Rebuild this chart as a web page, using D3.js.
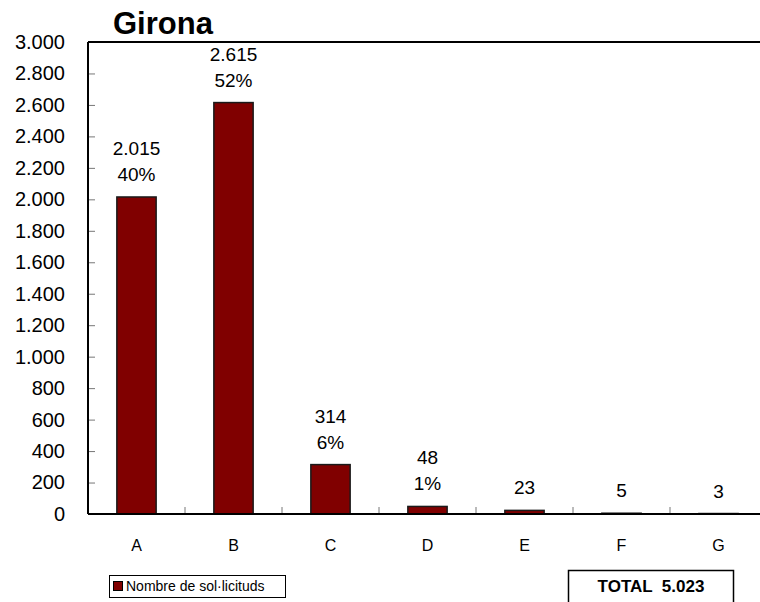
<!DOCTYPE html>
<html>
<head>
<meta charset="utf-8">
<script src="https://cdn.jsdelivr.net/npm/d3@7"></script>
<style>
  body { margin: 0; background: #fff; }
  svg { display: block; font-family: "Liberation Sans", Arial, sans-serif; }
</style>
</head>
<body>
<div id="chart"></div>
<script>
// Chart data
const title = 'Girona';
const categories = ['A', 'B', 'C', 'D', 'E', 'F', 'G'];
const values = [2015, 2615, 314, 48, 23, 5, 3];
const yTicks = [0, 200, 400, 600, 800, 1000, 1200, 1400, 1600, 1800, 2000, 2200, 2400, 2600, 2800, 3000];
const seriesName = 'Nombre de sol·licituds';
const totalLabel = 'TOTAL';

const width = 760;
const height = 602;
const plot = { left: 88, right: 767, top: 42, bottom: 514 };

const locale = d3.formatLocale({ decimal: ',', thousands: '.', grouping: [3], currency: ['', '€'] });
const fmt = locale.format(',');
const total = d3.sum(values);

const svg = d3.select('#chart')
  .append('svg')
  .attr('width', width)
  .attr('height', height);

svg.append('rect')
  .attr('width', width)
  .attr('height', height)
  .attr('fill', '#fff');

// Scales
const x = d3.scaleBand()
  .domain(categories)
  .range([plot.left, plot.right])
  .padding(0);

const barW = x.bandwidth() * 0.405;

const y = d3.scaleLinear()
  .domain([0, 3000])
  .range([plot.bottom, plot.top]);

// Title
svg.append('text')
  .attr('x', 113)
  .attr('y', 34)
  .attr('font-size', 31)
  .attr('font-weight', 'bold')
  .attr('fill', '#000')
  .text(title);

// Y axis
const yAxis = svg.append('g')
  .attr('transform', `translate(${plot.left},0)`)
  .call(d3.axisLeft(y)
    .tickValues(yTicks)
    .tickFormat(fmt)
    .tickSizeInner(-7)
    .tickSizeOuter(0)
    .tickPadding(23));

yAxis.select('.domain').remove();
yAxis.selectAll('line').attr('stroke', '#777').attr('stroke-width', 1);
yAxis.selectAll('text')
  .attr('font-size', 20)
  .attr('font-family', '"Liberation Sans", Arial, sans-serif')
  .attr('fill', '#000');

// Category boundary ticks on x axis
svg.append('g')
  .selectAll('line')
  .data(categories.slice(1))
  .join('line')
  .attr('x1', d => x(d))
  .attr('x2', d => x(d))
  .attr('y1', plot.bottom)
  .attr('y2', plot.bottom - 7)
  .attr('stroke', '#777')
  .attr('stroke-width', 1);

// X axis labels
const xAxis = svg.append('g')
  .attr('transform', `translate(0,${plot.bottom})`)
  .call(d3.axisBottom(x).tickSize(0).tickPadding(26));

xAxis.select('.domain').remove();
xAxis.selectAll('text')
  .attr('font-size', 16)
  .attr('font-family', '"Liberation Sans", Arial, sans-serif')
  .attr('fill', '#000');

// Bars
svg.append('g')
  .selectAll('rect')
  .data(categories.map((c, i) => ({ c, v: values[i] })))
  .join('rect')
  .attr('x', d => x(d.c) + (x.bandwidth() - barW) / 2)
  .attr('y', d => y(d.v))
  .attr('width', barW)
  .attr('height', d => y(0) - y(d.v))
  .attr('fill', '#800000')
  .attr('stroke', '#1a1a1a')
  .attr('stroke-width', 1.5);

// Data labels
const labels = svg.append('g')
  .attr('font-size', 19)
  .attr('fill', '#000')
  .attr('text-anchor', 'middle');

categories.forEach((c, i) => {
  const v = values[i];
  const pct = Math.round(v / total * 100);
  const cx = x(c) + x.bandwidth() / 2;
  const top = y(v);
  if (pct >= 1) {
    labels.append('text').attr('x', cx).attr('y', top - 42).text(fmt(v));
    labels.append('text').attr('x', cx).attr('y', top - 16).text(pct + '%');
  } else {
    labels.append('text').attr('x', cx).attr('y', top - 16).text(fmt(v));
  }
});

// Plot frame: top border, left and bottom axis lines
svg.append('line')
  .attr('x1', plot.left).attr('x2', plot.right + 10)
  .attr('y1', plot.top).attr('y2', plot.top)
  .attr('stroke', '#000').attr('stroke-width', 2);
svg.append('line')
  .attr('x1', plot.left).attr('x2', plot.left)
  .attr('y1', plot.top).attr('y2', plot.bottom)
  .attr('stroke', '#000').attr('stroke-width', 2);
svg.append('line')
  .attr('x1', plot.left).attr('x2', plot.right + 10)
  .attr('y1', plot.bottom).attr('y2', plot.bottom)
  .attr('stroke', '#000').attr('stroke-width', 2);

// Legend
const legend = svg.append('g');
legend.append('rect')
  .attr('x', 109.5).attr('y', 575.5)
  .attr('width', 176).attr('height', 22)
  .attr('fill', '#fff').attr('stroke', '#000').attr('stroke-width', 1);
legend.append('rect')
  .attr('x', 113.5).attr('y', 581.5)
  .attr('width', 9).attr('height', 9)
  .attr('fill', '#800000').attr('stroke', '#000').attr('stroke-width', 1);
legend.append('text')
  .attr('x', 126).attr('y', 591)
  .attr('font-size', 14)
  .attr('fill', '#000')
  .text(seriesName);

// Total box
const totalBox = svg.append('g');
totalBox.append('rect')
  .attr('x', 568.5).attr('y', 570.5)
  .attr('width', 165).attr('height', 40)
  .attr('fill', '#fff').attr('stroke', '#000').attr('stroke-width', 1.5);
totalBox.append('text')
  .attr('x', 651).attr('y', 592)
  .attr('text-anchor', 'middle')
  .attr('font-size', 17)
  .attr('font-weight', 'bold')
  .attr('fill', '#000')
  .attr('xml:space', 'preserve')
  .text(`${totalLabel}  ${fmt(total)}`);
</script>
</body>
</html>
